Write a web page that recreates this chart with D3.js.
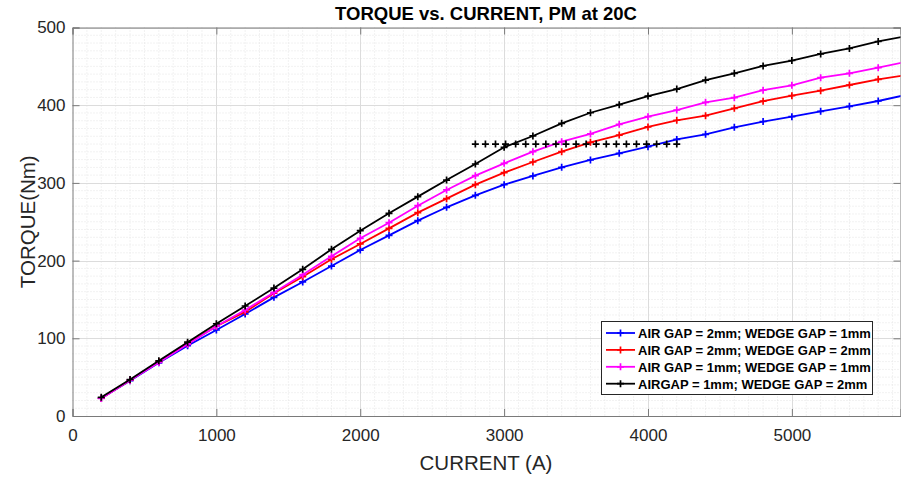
<!DOCTYPE html>
<html><head><meta charset="utf-8">
<script src="https://cdn.jsdelivr.net/npm/d3@7"></script>
<style>body{margin:0;background:#fff}svg{display:block}text{font-family:"Liberation Sans",Arial,sans-serif}</style>
</head><body><svg id="c" width="901" height="478"></svg>
<script>
const current = [200,400,600,800,1000,1200,1400,1600,1800,2000,2200,2400,2600,2800,3000,3200,3400,3600,3800,4000,4200,4400,4600,4800,5000,5200,5400,5600,5800];
const ag2wg1 = [23,45.5,68.5,90.5,110.7,131.3,152.7,172.5,193,213.6,232.5,251.4,268.6,284,297.7,308.9,320,329.5,338,346.6,356,362.5,371.5,379,385.2,392.1,398.6,405.4,413.5];
const ag2wg2 = [23,46,70,93,115.5,134,158,179.3,201.7,221.4,241.5,261.7,279.7,297.7,313.2,326.9,340.2,352.2,361.6,372,380.6,386.5,396,405.2,412.2,418.7,426,433.3,439];
const ag1wg1 = [22.5,46,69,92.2,115.5,136.4,159,181.9,205.5,228.7,248.8,270.7,290.9,309.3,325.2,340.2,353,363,375.4,385.2,393.8,403.7,409.7,419.4,425.6,435.4,441,448.3,456];
const ag1wg2 = [24,47,71,95,118.7,141.6,164.7,188.8,214.5,238.5,260.9,282.3,303.7,324.3,345.8,360.4,376.7,390.3,400.7,411.8,420.8,432.4,441,450.5,457.5,466,473,482,489];
const refX = [2800,2870,2940,3010,3080,3150,3220,3290,3360,3430,3500,3570,3640,3710,3780,3850,3920,3990,4060,4130,4200];
const refY = 350;
const seriesNames = ["AIR GAP = 2mm; WEDGE GAP = 1mm","AIR GAP = 2mm; WEDGE GAP = 2mm","AIR GAP = 1mm; WEDGE GAP = 1mm","AIRGAP = 1mm; WEDGE GAP = 2mm"];
const seriesColors = ["#0000ff","#ff0000","#ff00ff","#000000"];
const seriesValues = [ag2wg1, ag2wg2, ag1wg1, ag1wg2];
const xTicks = [0,1000,2000,3000,4000,5000];
const yTicks = [0,100,200,300,400,500];
const title = "TORQUE vs. CURRENT, PM at 20C";
const xLabel = "CURRENT (A)";
const yLabel = "TORQUE(Nm)";

const svg = d3.select("#c");
const L = 72.5, R = 900.5, T = 27.5, B = 416;
const x = d3.scaleLinear().domain([0,5755]).range([L,R]);
const y = d3.scaleLinear().domain([0,500]).range([B,T]);

svg.append("defs").append("clipPath").attr("id","clip").append("rect")
  .attr("x",L).attr("y",T).attr("width",R-L).attr("height",B-T);

// minor grid
const g = svg.append("g");
g.selectAll(".mx").data(d3.range(100,5755,100).filter(v=>v%1000!==0)).enter().append("line")
  .attr("x1",d=>x(d)).attr("x2",d=>x(d)).attr("y1",T).attr("y2",B)
  .attr("stroke","#e4e4e4").attr("stroke-width",1).attr("stroke-dasharray","1,2");
g.selectAll(".my").data(d3.range(10,500,10).filter(v=>v%100!==0)).enter().append("line")
  .attr("y1",d=>y(d)).attr("y2",d=>y(d)).attr("x1",L).attr("x2",R)
  .attr("stroke","#e4e4e4").attr("stroke-width",1).attr("stroke-dasharray","1,2");
// major grid
g.selectAll(".gx").data(xTicks.slice(1)).enter().append("line")
  .attr("x1",d=>Math.round(x(d))+0.5).attr("x2",d=>Math.round(x(d))+0.5).attr("y1",T).attr("y2",B)
  .attr("stroke","#dcdcdc").attr("stroke-width",1);
g.selectAll(".gy").data(yTicks.slice(1)).enter().append("line")
  .attr("y1",d=>Math.round(y(d))+0.5).attr("y2",d=>Math.round(y(d))+0.5).attr("x1",L).attr("x2",R)
  .attr("stroke","#dcdcdc").attr("stroke-width",1);

// axes
const ax = "#262626";
const fmt = d3.format("d");
const xb = svg.append("g").attr("transform",`translate(0,${B})`)
  .call(d3.axisBottom(x).tickValues(xTicks).tickSize(-7).tickPadding(13).tickFormat(fmt));
const xt = svg.append("g").attr("transform",`translate(0,${T})`)
  .call(d3.axisTop(x).tickValues(xTicks).tickSize(-7).tickFormat(""));
const yl = svg.append("g").attr("transform",`translate(${L},0)`)
  .call(d3.axisLeft(y).tickValues(yTicks).tickSize(-7).tickPadding(7).tickFormat(fmt));
const yr = svg.append("g").attr("transform",`translate(${R},0)`)
  .call(d3.axisRight(y).tickValues(yTicks).tickSize(-7).tickFormat(""));
[xb,xt,yl,yr].forEach(a=>{
  a.select(".domain").attr("stroke","#7a7a7a");
  a.selectAll(".tick line").attr("stroke","#7a7a7a");
  a.selectAll("text").attr("fill",ax).style("font-size","17px").style("font-family","'Liberation Sans',Arial,sans-serif");
});

// series
const plot = svg.append("g").attr("clip-path","url(#clip)");
const line = d3.line().x((d,i)=>x(current[i])).y(d=>y(d));
const ms = 3.5;
function plus(sel, px, py, color){
  sel.append("path").attr("d",`M${px-ms},${py}H${px+ms}M${px},${py-ms}V${py+ms}`)
    .attr("stroke",color).attr("stroke-width",1.7).attr("fill","none");
}
seriesValues.forEach((vals,k)=>{
  plot.append("path").datum(vals).attr("d",line).attr("fill","none")
    .attr("stroke",seriesColors[k]).attr("stroke-width",1.8);
  vals.forEach((v,i)=>plus(plot, x(current[i]), y(v), seriesColors[k]));
});
refX.forEach(v=>plus(plot, x(v), y(refY), "#000"));

// title and labels
svg.append("text").attr("x",486).attr("y",20).attr("text-anchor","middle")
  .style("font-size","18.5px").style("font-weight","bold").attr("fill","#000").text(title);
svg.append("text").attr("x",486).attr("y",470).attr("text-anchor","middle")
  .style("font-size","20.5px").attr("fill",ax).text(xLabel);
svg.append("text").attr("transform",`translate(35,${(T+B)/2}) rotate(-90)`).attr("text-anchor","middle")
  .style("font-size","20.5px").attr("fill",ax).text(yLabel);

// legend
const lg = svg.append("g");
lg.append("rect").attr("x",601.5).attr("y",321.5).attr("width",271).attr("height",73)
  .attr("fill","#fff").attr("stroke","#262626").attr("stroke-width",1);
seriesNames.forEach((n,k)=>{
  const yy = 333 + k*16.9;
  lg.append("line").attr("x1",606).attr("x2",635).attr("y1",yy).attr("y2",yy)
    .attr("stroke",seriesColors[k]).attr("stroke-width",1.8);
  plus(lg, 620.5, yy, seriesColors[k]);
  lg.append("text").attr("x",638).attr("y",yy+4.8).style("font-size","13px").style("font-weight","bold")
    .attr("fill","#000").text(n);
});
</script></body></html>
